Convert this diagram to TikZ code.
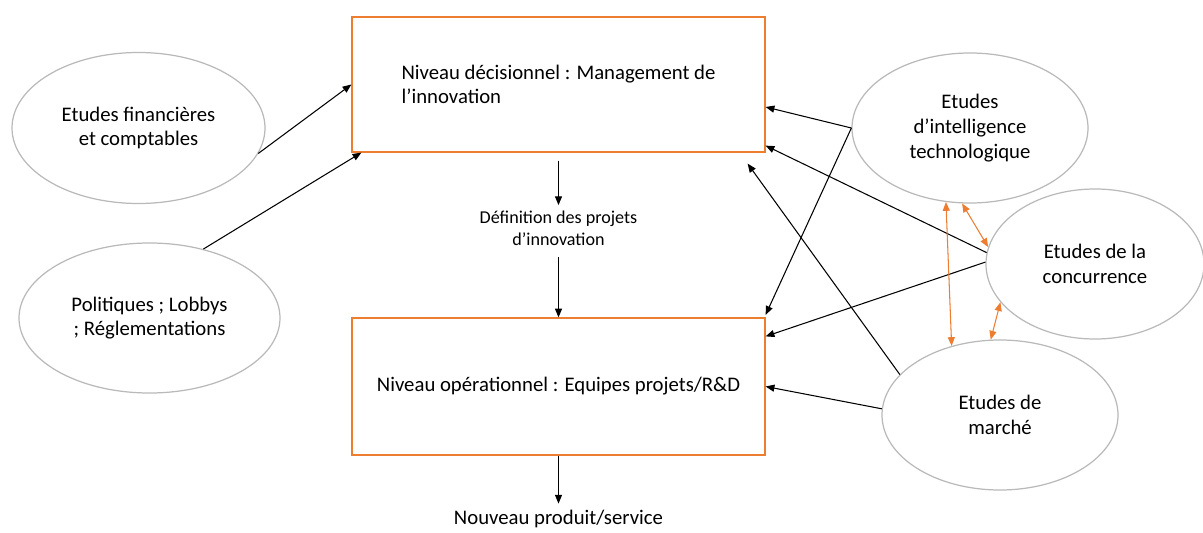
\documentclass[tikz,border=0pt]{standalone}
\usepackage{fontspec}
\setmainfont{Carlito}
\usepackage{xcolor}
\usetikzlibrary{calc, arrows.meta, positioning, shapes.geometric}
\definecolor{boxorange}{RGB}{237,125,49}
\definecolor{ellgray}{RGB}{185,185,185}
\tikzset{
  level/.style={rectangle,draw=boxorange,line width=0.7pt,minimum width=82.6mm,font=\fontsize{11.8}{14}\selectfont},
  study/.style={ellipse,draw=ellgray,line width=0.7pt,align=center,inner sep=0pt,font=\fontsize{11.8}{14}\selectfont},
  flow/.style={-{Triangle[length=5pt,width=4pt]}, line width=0.6pt},
  link/.style={{Triangle[length=5pt,width=4pt]}-{Triangle[length=5pt,width=4pt]}, line width=0.6pt, color=boxorange},
  note/.style={align=center,font=\fontsize{10.3}{12.5}\selectfont}
}

\begin{document}
\begin{tikzpicture}
  \useasboundingbox (0,0) rectangle (24.06,10.64);
  % the two levels
  \node[level, minimum height=27mm, align=left] (dec) at (11.17,8.95) {Niveau décisionnel : Management de\\l’innovation};
  \node[level, minimum height=27.4mm] (ope) at (11.17,2.91) {Niveau opérationnel : Equipes projets/R\&D};
  \node[note, below=10.5mm of dec] (def) {Définition des projets\\d’innovation};
  \node[note, font=\fontsize{11.8}{14}\selectfont, below=9.6mm of ope] (out) {Nouveau produit/service};
  % the studies
  \node[study, minimum width=50.6mm, minimum height=30.2mm] (fin) at (2.77,8.08) {Etudes financières\\et comptables};
  \node[study, minimum width=52.2mm, minimum height=30mm] (pol) at (2.99,4.28) {Politiques ; Lobbys\\; Réglementations};
  \node[study, minimum width=47.2mm, minimum height=30mm] (tech) at (19.40,8.08) {Etudes\\d’intelligence\\technologique};
  \node[study, minimum width=43.6mm, minimum height=30mm] (conc) at (21.90,5.36) {Etudes de la\\concurrence};
  \node[study, minimum width=47.2mm, minimum height=30mm] (mark) at (20.0,2.34) {Etudes de\\marché};
  % main flow
  \draw[flow, shorten <=1.6mm] (dec.south) -- (def.north);
  \draw[flow, shorten <=1mm] (def.south) -- (ope.north);
  \draw[flow] (ope.south) -- (out.north);
  % inputs
  \draw[flow] (fin.-12) -- (dec.west);
  \draw[flow] (pol.52) -- ([xshift=2mm]dec.south west);
  \draw[flow] (tech.180) -- ([yshift=-4.5mm]dec.east);
  \draw[flow] (tech.180) -- ([yshift=0.5mm]ope.north east);
  \draw[flow] (conc.174) -- ([yshift=1.4mm]dec.south east);
  \draw[flow] (conc.179) -- ([yshift=-3.8mm]ope.north east);
  \draw[flow] (mark.158) -- ([xshift=-3.6mm,yshift=-2.2mm]dec.south east);
  \draw[flow] (mark.177) -- (ope.east);
  % exchanges between studies
  \draw[link] (tech.252) -- (mark.125);
  \draw[link] (tech.264) -- (conc.171);
  \draw[link] (conc.202) -- (mark.97);
\end{tikzpicture}
\end{document}
